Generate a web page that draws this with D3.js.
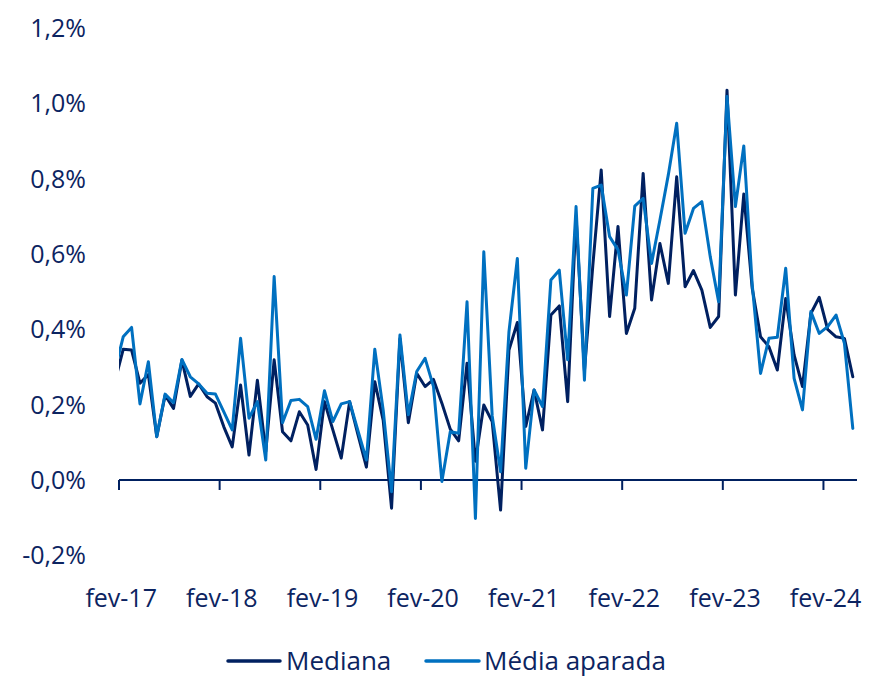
<!DOCTYPE html>
<html>
<head>
<meta charset="utf-8">
<script src="https://cdn.jsdelivr.net/npm/d3@7"></script>
<style>
  html, body { margin: 0; padding: 0; background: #ffffff; }
  svg { display: block; }
  text { font-family: "Open Sans", "Noto Sans", sans-serif; fill: #0c2461; }
</style>
</head>
<body>
<div id="chart"></div>
<script>
// ---- Data (monthly, % m/m) ----
const monthNames = ["jan","fev","mar","abr","mai","jun","jul","ago","set","out","nov","dez"];
// categories: jan-17 (partly outside the plot, clipped) .. mai-24
const months = [];
for (let y = 17; y <= 24; y++) {
  for (let m = 0; m < 12; m++) {
    if (y === 24 && m > 4) break;
    months.push(monthNames[m] + "-" + y);
  }
}
const tickLabels = ["fev-17","fev-18","fev-19","fev-20","fev-21","fev-22","fev-23","fev-24"];
const yTicks = [-0.2, 0, 0.2, 0.4, 0.6, 0.8, 1.0, 1.2];

const mediana = [
  0.26,
  0.347, 0.345, 0.257, 0.28, 0.115, 0.225, 0.19, 0.318, 0.222, 0.255, 0.221, 0.204,
  0.141, 0.088, 0.252, 0.066, 0.265, 0.075, 0.319, 0.128, 0.104, 0.181, 0.146, 0.028,
  0.208, 0.133, 0.058, 0.208, 0.12, 0.034, 0.261, 0.159, -0.075, 0.375, 0.152, 0.283,
  0.248, 0.267, 0.204, 0.135, 0.104, 0.31, 0.05, 0.199, 0.155, -0.08, 0.345, 0.418,
  0.142, 0.239, 0.133, 0.438, 0.462, 0.208, 0.70, 0.29, 0.57, 0.823, 0.434, 0.673,
  0.389, 0.456, 0.814, 0.478, 0.628, 0.522, 0.805, 0.513, 0.556, 0.504, 0.405, 0.434,
  1.035, 0.491, 0.759, 0.51, 0.380, 0.354, 0.292, 0.482, 0.332, 0.248, 0.442, 0.485,
  0.400, 0.380, 0.376, 0.274
];
const mediaAparada = [
  0.29,
  0.38, 0.405, 0.202, 0.314, 0.115, 0.228, 0.205, 0.320, 0.274, 0.255, 0.230, 0.228,
  0.181, 0.133, 0.376, 0.164, 0.208, 0.053, 0.540, 0.152, 0.211, 0.214, 0.195, 0.108,
  0.237, 0.155, 0.202, 0.208, 0.13, 0.053, 0.347, 0.186, -0.031, 0.385, 0.173, 0.288,
  0.323, 0.248, -0.004, 0.128, 0.124, 0.473, -0.102, 0.606, 0.17, 0.022, 0.394, 0.588,
  0.031, 0.239, 0.195, 0.531, 0.557, 0.319, 0.726, 0.265, 0.774, 0.783, 0.646, 0.611,
  0.491, 0.727, 0.748, 0.575, 0.690, 0.810, 0.947, 0.655, 0.721, 0.739, 0.593, 0.473,
  1.018, 0.726, 0.887, 0.52, 0.283, 0.376, 0.379, 0.562, 0.270, 0.186, 0.447, 0.389,
  0.407, 0.438, 0.363, 0.137
];

const seriesNames = ["Mediana", "Média aparada"];
const colors = ["#002060", "#0070c0"];

// ---- Layout ----
const W = 888, H = 677;
const plotLeft = 119, plotRight = 857;
const nVisible = months.length - 1;
const step = (plotRight - plotLeft) / nVisible;

const svg = d3.select("#chart").append("svg")
  .attr("width", W).attr("height", H);

const x = d3.scaleBand().domain(months)
  .range([plotLeft - step, plotRight]).paddingInner(0).paddingOuter(0);
const y = d3.scaleLinear().domain([-0.2, 1.2]).range([555.3, 28]);
const cx = d => x(d) + x.bandwidth() / 2;

const fmt = v => d3.format(".1f")(v).replace("\u2212", "-").replace(".", ",") + "%";

// Y tick labels
svg.append("g").selectAll("text").data(yTicks).join("text")
  .attr("x", 86).attr("y", d => y(d) + 9)
  .attr("text-anchor", "end")
  .style("font-size", "25px")
  .text(d => fmt(d));

// X axis line + ticks
const axisG = svg.append("g");
axisG.append("line")
  .attr("x1", plotLeft).attr("x2", plotRight)
  .attr("y1", y(0)).attr("y2", y(0))
  .attr("stroke", "#002060").attr("stroke-width", 2);
axisG.selectAll("line.tick").data(tickLabels).join("line")
  .attr("class", "tick")
  .attr("x1", d => x(d)).attr("x2", d => x(d))
  .attr("y1", y(0)).attr("y2", y(0) + 10)
  .attr("stroke", "#002060").attr("stroke-width", 2);
axisG.selectAll("text").data(tickLabels).join("text")
  .attr("x", d => cx(d) - 2).attr("y", 607)
  .attr("text-anchor", "middle")
  .style("font-size", "25px")
  .text(d => d);

// Clip lines to plot area
svg.append("defs").append("clipPath").attr("id", "plotClip")
  .append("rect").attr("x", plotLeft).attr("y", 0)
  .attr("width", plotRight - plotLeft + 5).attr("height", H);

const line = d3.line().x(d => cx(d.m)).y(d => y(d.v));
const series = [mediana, mediaAparada];
const linesG = svg.append("g").attr("clip-path", "url(#plotClip)");
series.forEach((vals, i) => {
  const pts = months.map((m, k) => ({ m, v: vals[k] }));
  linesG.append("path").datum(pts)
    .attr("d", line)
    .attr("fill", "none")
    .attr("stroke", colors[i])
    .attr("stroke-width", 3)
    .attr("stroke-linejoin", "round")
    .attr("stroke-linecap", "round");
});

// Legend
const legendItems = [
  { name: seriesNames[0], color: colors[0], x1: 228, x2: 280, tx: 286 },
  { name: seriesNames[1], color: colors[1], x1: 426, x2: 479, tx: 484 }
];
const lg = svg.append("g");
legendItems.forEach(it => {
  lg.append("line").attr("x1", it.x1).attr("x2", it.x2)
    .attr("y1", 661).attr("y2", 661)
    .attr("stroke", it.color).attr("stroke-width", 3.5)
    .attr("stroke-linecap", "round");
  lg.append("text").attr("x", it.tx).attr("y", 670)
    .style("font-size", "26px")
    .text(it.name);
});
</script>
</body>
</html>
